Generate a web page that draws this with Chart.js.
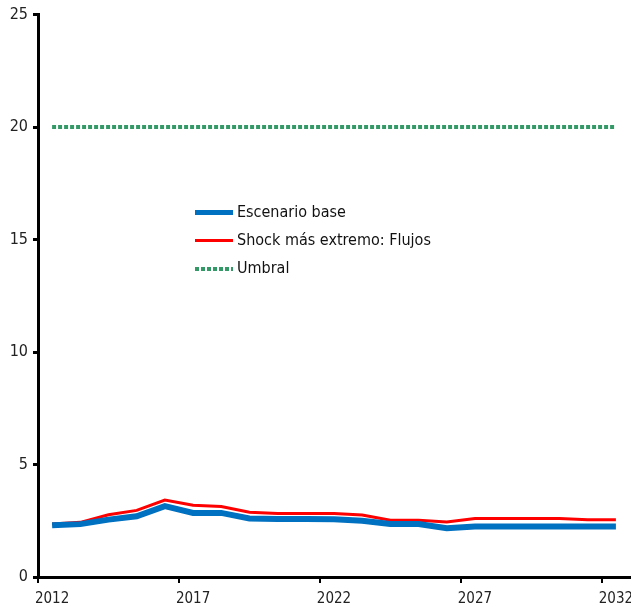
<!DOCTYPE html>
<html>
<head>
<meta charset="utf-8">
<script src="https://cdn.jsdelivr.net/npm/chart.js@4.4.1/dist/chart.umd.min.js"></script>
<style>
  html, body { margin: 0; padding: 0; background: #fff; }
  #wrap { position: relative; width: 631px; height: 614px; }
  #legend { position: absolute; left: 195px; top: 200px; font-family: 'Liberation Sans Narrow', 'Arial Narrow', 'DejaVu Sans Condensed', sans-serif; font-size: 16px; color: #111; }
  #legend div { height: 28px; line-height: 24px; white-space: nowrap; }
  #legend span.sw { display: inline-block; width: 38px; vertical-align: middle; margin-right: 4px; }
</style>
</head>
<body>
<div id="wrap">
  <canvas id="myChart" width="631" height="614"></canvas>
  <div id="legend"></div>
</div>
<script>
const years = [];
for (let y = 2012; y <= 2032; y++) years.push(String(y));

// valores
const baseValues  = [2.3, 2.35, 2.55, 2.7, 3.15, 2.85, 2.85, 2.6, 2.58, 2.58, 2.57, 2.5, 2.36, 2.36, 2.17, 2.24, 2.24, 2.24, 2.24, 2.24, 2.24];
const shockValues = [2.36, 2.43, 2.77, 2.96, 3.42, 3.19, 3.13, 2.88, 2.82, 2.82, 2.82, 2.76, 2.52, 2.52, 2.45, 2.6, 2.6, 2.6, 2.6, 2.54, 2.54];
const umbralValues = [20, 20, 20, 20, 20, 20, 20, 20, 20, 20, 20, 20, 20, 20, 20, 20, 20, 20, 20, 20, 20];
const yTicks = [0, 5, 10, 15, 20, 25];

const fontFam = "'Liberation Sans Narrow', 'Arial Narrow', 'DejaVu Sans Condensed', sans-serif";

const ctx = document.getElementById('myChart').getContext('2d');
const myChart = new Chart(ctx, {
  type: 'line',
  data: {
    labels: years,
    datasets: [
      { label: 'Escenario base', data: baseValues, borderColor: '#0070C0', borderWidth: 6, pointRadius: 0, tension: 0 },
      { label: 'Shock más extremo: Flujos', data: shockValues, borderColor: '#FF0000', borderWidth: 3, pointRadius: 0, tension: 0 },
      { label: 'Umbral', data: umbralValues, borderColor: '#339966', borderWidth: 4, borderDash: [4, 2], pointRadius: 0, tension: 0 }
    ]
  },
  options: {
    responsive: false,
    animation: false,
    layout: { padding: { top: 8, right: 1, left: 0, bottom: 0 } },
    plugins: { legend: { display: false }, tooltip: { enabled: false } },
    scales: {
      x: {
        type: 'category',
        offset: true,
        border: { color: '#000', width: 3 },
        grid: {
          offset: true,
          drawOnChartArea: false,
          tickLength: 6,
          lineWidth: 2,
          color: function(c) { return (c.index % 5 === 0) ? '#000' : 'rgba(0,0,0,0)'; }
        },
        ticks: {
          autoSkip: false,
          maxRotation: 0,
          padding: 7,
          color: '#222',
          font: { family: fontFam, size: 15 },
          callback: function(v, i) { return (i % 5 === 0) ? years[i] : ''; }
        },
        afterFit: function(s) { s.height = 37; s.paddingLeft = 0; s.paddingRight = 0; }
      },
      y: {
        min: 0,
        max: 25,
        border: { color: '#000', width: 3 },
        grid: { drawOnChartArea: false, tickLength: 5, lineWidth: 3, color: '#000' },
        afterBuildTicks: function(s) { s.ticks = yTicks.map(function(v) { return { value: v }; }); },
        ticks: {
          padding: 5,
          color: '#222',
          font: { family: fontFam, size: 16 }
        },
        afterFit: function(s) { s.width = 38; }
      }
    }
  }
});

// leyenda dentro del grafico
const legendBox = document.getElementById('legend');
myChart.data.datasets.forEach(function(ds) {
  const row = document.createElement('div');
  const sw = document.createElement('span');
  sw.className = 'sw';
  sw.style.height = Math.min(ds.borderWidth, 5) + 'px';
  if (ds.borderDash) {
    sw.style.background = 'repeating-linear-gradient(to right, ' + ds.borderColor + ' 0 4px, transparent 4px 6px)';
  } else {
    sw.style.background = ds.borderColor;
  }
  row.appendChild(sw);
  row.appendChild(document.createTextNode(ds.label));
  legendBox.appendChild(row);
});
</script>
</body>
</html>
